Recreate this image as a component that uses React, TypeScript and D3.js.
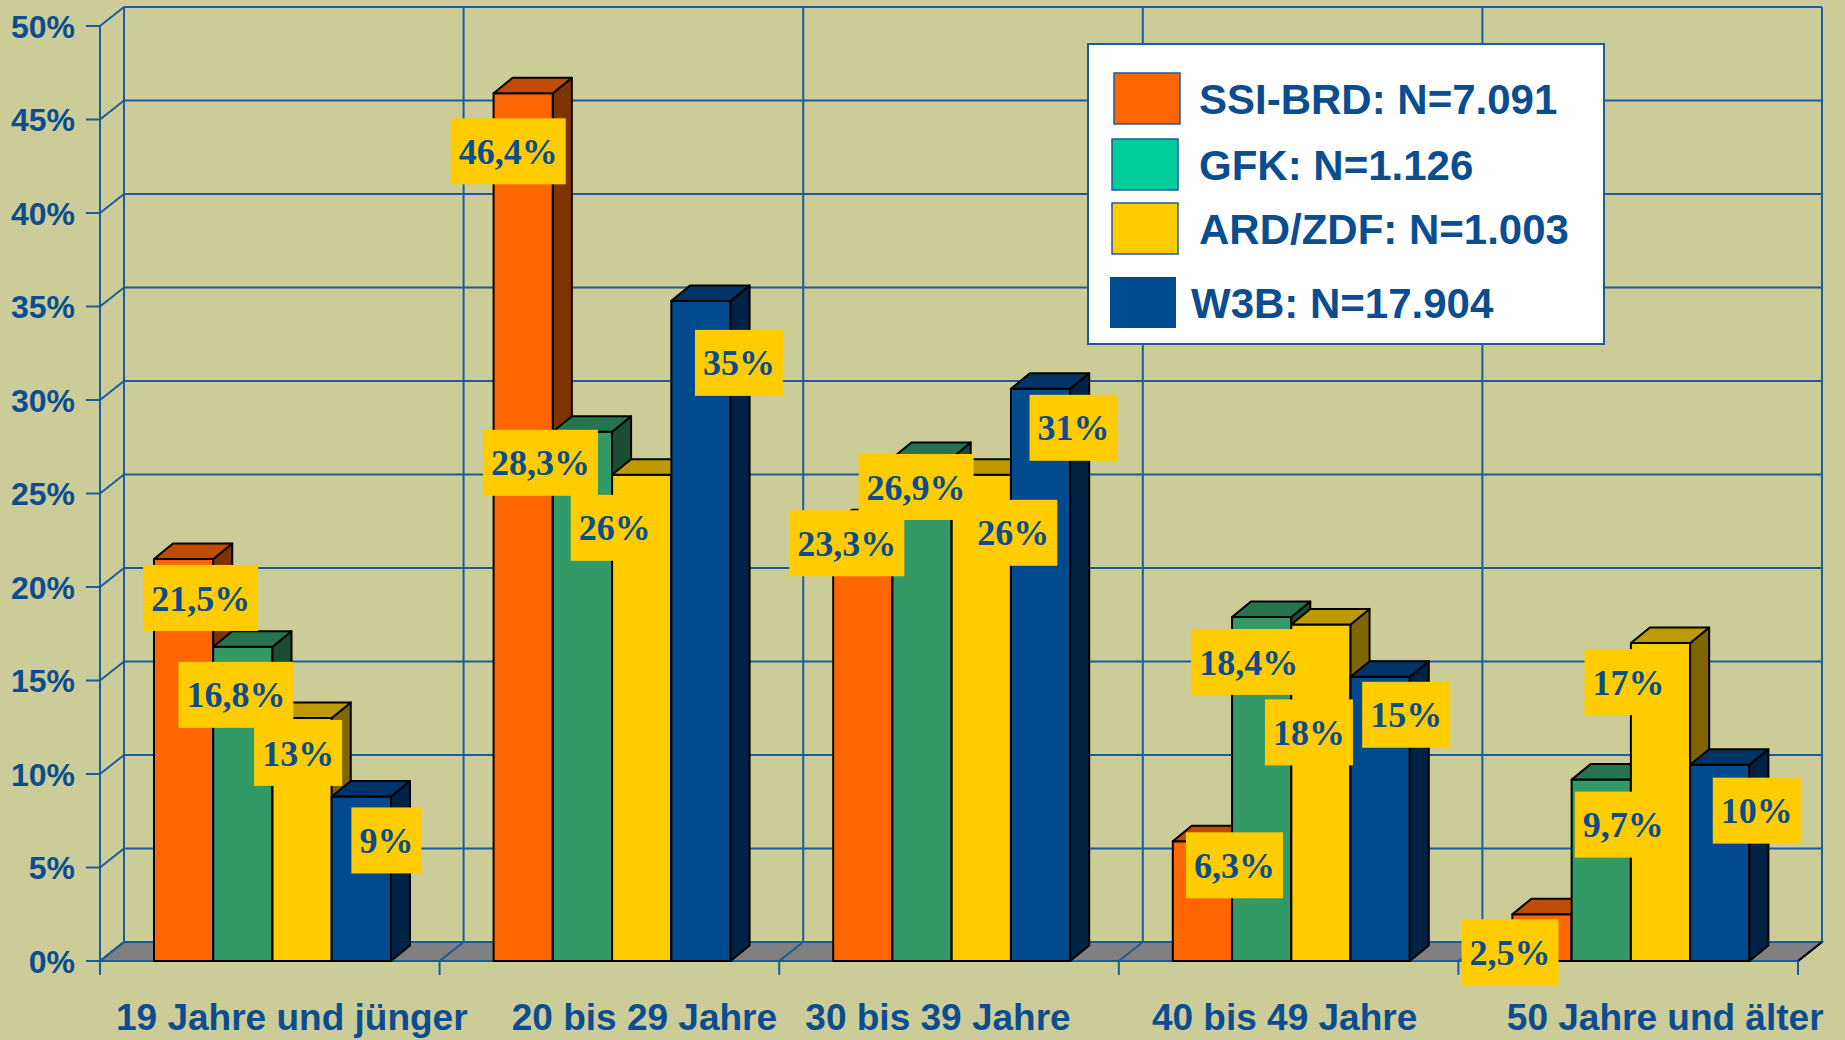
import React, { useEffect, useRef } from 'react';
import * as d3 from 'd3';

// Altersgruppen
const categories = ['19 Jahre und jünger', '20 bis 29 Jahre', '30 bis 39 Jahre', '40 bis 49 Jahre', '50 Jahre und älter'];
const seriesNames = ['SSI-BRD: N=7.091', 'GFK: N=1.126', 'ARD/ZDF: N=1.003', 'W3B: N=17.904'];

// Werte (in %)
const ssiBrd = [21.5, 46.4, 23.3, 6.4, 2.5];
const gfk = [16.8, 28.3, 26.9, 18.4, 9.7];
const ardZdf = [13, 26, 26, 18, 17];
const w3b = [8.8, 35.3, 30.6, 15.2, 10.5];

// Beschriftungen
const ssiBrdLabels = ['21,5%', '46,4%', '23,3%', '6,3%', '2,5%'];
const gfkLabels = ['16,8%', '28,3%', '26,9%', '18,4%', '9,7%'];
const ardZdfLabels = ['13%', '26%', '26%', '18%', '17%'];
const w3bLabels = ['9%', '35%', '31%', '15%', '10%'];

const yTicks = [0, 5, 10, 15, 20, 25, 30, 35, 40, 45, 50];

// Layout: Verschiebung der Wertelabels gegenüber Balkenmitte / Balkenoberkante
const labelNudge = [
  [[17, 39], [-15, 58], [-16, 18], [32, 24], [-32, 38]],
  [[-7, 48], [-42, 31], [-6, 29], [-13, 45], [22, 45]],
  [[-4, 35], [-27, 53], [32, 58], [-12, 108], [-32, 39]],
  [[25, 44], [38, 62], [33, 39], [26, 38], [37, 46]],
];
const catLabelNudge = [22, 35, -11, -4, 37];

const App = () => {
  const chartRef = useRef<SVGSVGElement>(null);

  useEffect(() => {
    const W = 1845;
    const H = 1040;
    const blue = '#1d5c9c';
    const textBlue = '#0b4d8f';

    const svg = d3.select(chartRef.current);
    svg.selectAll('*').remove();
    svg.attr('width', W).attr('height', H);

    svg.append('rect').attr('width', W).attr('height', H).attr('fill', '#CCCC99');

    const y = d3.scaleLinear().domain([0, 50]).range([961, 26]);
    const x0 = d3.scaleBand<string>().domain(categories).range([100, 1798]);
    const x1 = d3.scaleBand<string>().domain(seriesNames).range([54, 291]);
    const wall = { dx: 24, dy: -19 };
    const bd = { dx: 19, dy: -15.5 };
    const xStart = x0.range()[0];
    const xEnd = x0.range()[1];
    const bounds = [...categories.map(c => x0(c)!), xEnd];

    // Boden
    svg.append('path')
      .attr('d', `M${xStart},${y(0)}L${xEnd},${y(0)}L${xEnd + wall.dx},${y(0) + wall.dy}L${xStart + wall.dx},${y(0) + wall.dy}Z`)
      .attr('fill', '#808080')
      .attr('stroke', '#000')
      .attr('stroke-width', 1.5);

    const grid = svg.append('g').attr('stroke', blue).attr('stroke-width', 2).attr('fill', 'none');

    // Rückwand: horizontale Linien
    yTicks.forEach(t => {
      grid.append('line')
        .attr('x1', xStart + wall.dx).attr('x2', xEnd + wall.dx)
        .attr('y1', y(t) + wall.dy).attr('y2', y(t) + wall.dy);
      // Seitenwand-Diagonalen
      grid.append('line')
        .attr('x1', xStart).attr('y1', y(t))
        .attr('x2', xStart + wall.dx).attr('y2', y(t) + wall.dy);
      // Ticks
      grid.append('line')
        .attr('x1', xStart - 14).attr('x2', xStart)
        .attr('y1', y(t)).attr('y2', y(t));
    });

    // Rückwand: vertikale Linien, Boden-Diagonalen, x-Ticks
    bounds.forEach(b => {
      grid.append('line')
        .attr('x1', b + wall.dx).attr('x2', b + wall.dx)
        .attr('y1', y(0) + wall.dy).attr('y2', y(50) + wall.dy);
      grid.append('line')
        .attr('x1', b).attr('y1', y(0))
        .attr('x2', b + wall.dx).attr('y2', y(0) + wall.dy);
      grid.append('line')
        .attr('x1', b).attr('x2', b)
        .attr('y1', y(0)).attr('y2', y(0) + 14);
    });

    // rechte Bodenkante schwarz
    svg.append('line')
      .attr('x1', xEnd).attr('y1', y(0))
      .attr('x2', xEnd + wall.dx).attr('y2', y(0) + wall.dy)
      .attr('stroke', '#000').attr('stroke-width', 2);

    // Achsen vorne
    grid.append('line').attr('x1', xStart).attr('x2', xStart).attr('y1', y(0)).attr('y2', y(50));
    grid.append('line').attr('x1', xStart).attr('x2', xEnd).attr('y1', y(0)).attr('y2', y(0));

    // y-Achsenbeschriftung
    svg.append('g')
      .selectAll('text')
      .data(yTicks)
      .enter().append('text')
      .attr('x', 75)
      .attr('y', d => y(d))
      .attr('dy', '0.36em')
      .attr('text-anchor', 'end')
      .attr('font-family', '"Liberation Sans", Arial, sans-serif')
      .attr('font-weight', 'bold')
      .attr('font-size', 32)
      .attr('fill', textBlue)
      .text(d => `${d}%`);

    // x-Achsenbeschriftung
    svg.append('g')
      .selectAll('text')
      .data(categories)
      .enter().append('text')
      .attr('x', (d, i) => x0(d)! + x0.bandwidth() / 2 + catLabelNudge[i])
      .attr('y', 1030)
      .attr('text-anchor', 'middle')
      .attr('font-family', '"Liberation Sans", Arial, sans-serif')
      .attr('font-weight', 'bold')
      .attr('font-size', 37)
      .attr('fill', textBlue)
      .text(d => d);

    // Balken
    const seriesValues = [ssiBrd, gfk, ardZdf, w3b];
    const seriesLabels = [ssiBrdLabels, gfkLabels, ardZdfLabels, w3bLabels];
    const front = ['#FF6600', '#339966', '#FFCC00', '#024A8E'];
    const top = ['#BF4C00', '#267350', '#BF9900', '#003366'];
    const side = ['#7F3300', '#1A4D33', '#7F6600', '#002244'];

    const bars = svg.append('g').attr('stroke', '#000').attr('stroke-width', 2).attr('stroke-linejoin', 'round');
    categories.forEach((cat, ci) => {
      seriesNames.forEach((s, si) => {
        const v = seriesValues[si][ci];
        const x = x0(cat)! + x1(s)!;
        const w = x1.bandwidth();
        const yt = y(v);
        const yb = y(0);
        bars.append('rect')
          .attr('x', x).attr('y', yt).attr('width', w).attr('height', yb - yt)
          .attr('fill', front[si]);
        bars.append('path')
          .attr('d', `M${x + w},${yt}L${x + w + bd.dx},${yt + bd.dy}L${x + w + bd.dx},${yb + bd.dy}L${x + w},${yb}Z`)
          .attr('fill', side[si]);
        bars.append('path')
          .attr('d', `M${x},${yt}L${x + bd.dx},${yt + bd.dy}L${x + w + bd.dx},${yt + bd.dy}L${x + w},${yt}Z`)
          .attr('fill', top[si]);
      });
    });

    // Wertelabels
    const labels = svg.append('g');
    categories.forEach((cat, ci) => {
      seriesNames.forEach((s, si) => {
        const v = seriesValues[si][ci];
        const [ndx, ndy] = labelNudge[si][ci];
        const cx = x0(cat)! + x1(s)! + x1.bandwidth() / 2 + ndx;
        const cy = y(v) + ndy;
        const g = labels.append('g');
        const rect = g.append('rect').attr('fill', '#FFCC00');
        const t = g.append('text')
          .attr('x', cx).attr('y', cy)
          .attr('dy', '0.35em')
          .attr('text-anchor', 'middle')
          .attr('font-family', '"Liberation Serif", "Times New Roman", serif')
          .attr('font-weight', 'bold')
          .attr('font-size', 36)
          .attr('fill', textBlue)
          .text(seriesLabels[si][ci]);
        const tw = (t.node() as SVGTextElement).getComputedTextLength();
        const bw = tw + 16;
        rect.attr('x', cx - bw / 2).attr('y', cy - 33).attr('width', bw).attr('height', 66);
      });
    });

    // Legende
    const legendColors = ['#FF6600', '#00CC99', '#FFCC00', '#004C8F'];
    const rowTop = [73, 139, 203, 277];
    const swatchX = [1114, 1112, 1112, 1110];
    const textX = [1199, 1199, 1199, 1191];
    const legend = svg.append('g');
    legend.append('rect')
      .attr('x', 1088).attr('y', 44).attr('width', 516).attr('height', 300)
      .attr('fill', '#fff').attr('stroke', blue).attr('stroke-width', 2);
    seriesNames.forEach((s, i) => {
      legend.append('rect')
        .attr('x', swatchX[i]).attr('y', rowTop[i]).attr('width', 66).attr('height', 51)
        .attr('fill', legendColors[i])
        .attr('stroke', i < 3 ? blue : 'none').attr('stroke-width', 1.5);
      legend.append('text')
        .attr('x', textX[i]).attr('y', rowTop[i] + 41)
        .attr('font-family', '"Liberation Sans", Arial, sans-serif')
        .attr('font-weight', 'bold')
        .attr('font-size', 42)
        .attr('fill', textBlue)
        .text(s);
    });
  }, []);

  return <svg ref={chartRef} style={{ position: 'absolute', left: 0, top: 0, display: 'block' }}></svg>;
};

export default App;
